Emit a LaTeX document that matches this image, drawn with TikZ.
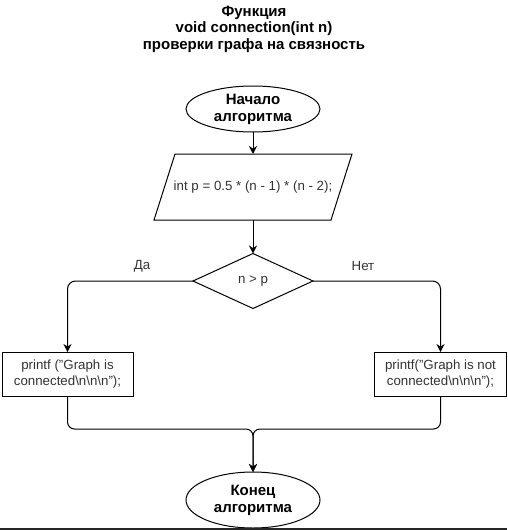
\documentclass[tikz,border=0pt]{standalone}
\usepackage{fontspec}
\setmainfont{Liberation Sans}
\usetikzlibrary{shapes.geometric,arrows.meta}
\definecolor{txt}{HTML}{333333}
\begin{document}
\begin{tikzpicture}[x=1pt,y=-1pt,
  every node/.style={inner sep=0pt, outer sep=0pt},
  shp/.style={draw=black, line width=1pt, fill=white, align=center},
  term/.style={shp, ellipse, minimum width=134pt, font=\fontsize{15}{17}\selectfont\bfseries},
  body/.style={font=\fontsize{13.3}{16}\selectfont, text=txt},
  arr/.style={draw=black, line width=1pt, -{Stealth[length=8pt,width=8pt]}},
  lbl/.style={font=\fontsize{13.3}{16}\selectfont, text=txt}
]
\useasboundingbox (0,0) rectangle (507,530);
\node[align=center, font=\fontsize{15}{16.5}\selectfont\bfseries] (title) at (254,29)
  {Функция\\void connection(int n)\\проверки графа на связность};
\node[term, minimum height=46pt] (start) at (253,109) {Начало\\алгоритма};
\node[body, rectangle, minimum width=198pt, minimum height=66pt] (calc) at (253,187)
  {int p = 0.5 * (n - 1) * (n - 2);};
\draw[line width=1pt, line join=miter] ([xshift=21pt]calc.north west) -- (calc.north east)
  -- ([xshift=-21pt]calc.south east) -- (calc.south west) -- cycle;
\node[shp, body, diamond, minimum width=120pt, minimum height=55pt] (dec) at (253,281) {n > p};
\node[shp, body, rectangle, minimum width=131pt, minimum height=44pt] (yes) at (67.5,374)
  {printf ("Graph is\\connected\textbackslash n\textbackslash n\textbackslash n");};
\node[shp, body, rectangle, minimum width=132pt, minimum height=44pt] (no) at (440.5,374)
  {printf("Graph is not\\connected\textbackslash n\textbackslash n\textbackslash n");};
\node[term, minimum height=56pt] (fin) at (253,500) {Конец\\алгоритма};
\coordinate (m) at (253,429);
\draw[arr] (start) -- (calc);
\draw[arr] (calc) -- (dec);
\draw[arr, rounded corners=8pt] (dec.west) -| (yes.north);
\draw[arr, rounded corners=8pt] (dec.east) -| (no.north);
\draw[arr, rounded corners=7pt] (yes.south) |- (m) -- (fin.north);
\draw[arr, rounded corners=7pt] (no.south) |- (m) -- (fin.north);
\node[lbl] (da) at (142,266) {Да};
\node[lbl] (net) at (363,266) {Нет};
\draw[line width=1.6pt, draw=black!85] (0,529) -- (507,529);
\end{tikzpicture}
\end{document}
